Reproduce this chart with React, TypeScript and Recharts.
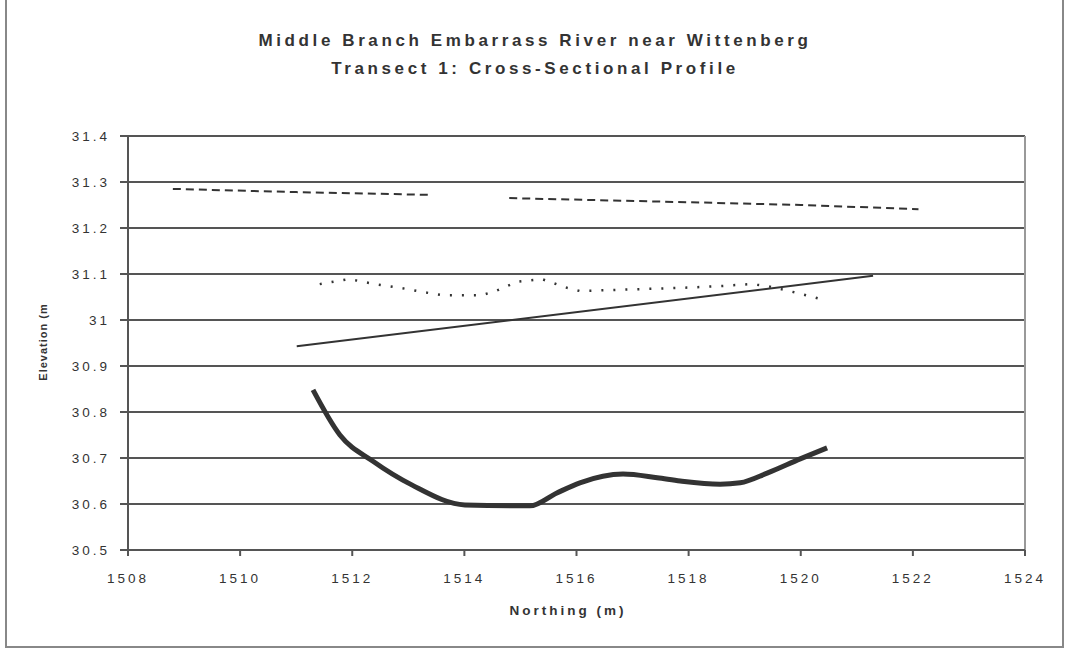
import {
  CartesianGrid,
  Line,
  LineChart,
  ReferenceLine,
  XAxis,
  YAxis,
} from "recharts";

// x = northing (m), y = elevation (m)
const waterSurface = [
  { x: 1508.8, y: 31.285 },
  { x: 1511.0, y: 31.278 },
  { x: 1513.4, y: 31.272 },
  { x: 1514.1, y: null },
  { x: 1514.8, y: 31.265 },
  { x: 1518.0, y: 31.256 },
  { x: 1520.0, y: 31.25 },
  { x: 1522.1, y: 31.241 },
];

const bankfull = [
  { x: 1511.42, y: 31.078 },
  { x: 1511.94, y: 31.089 },
  { x: 1512.41, y: 31.078 },
  { x: 1512.85, y: 31.07 },
  { x: 1513.35, y: 31.059 },
  { x: 1513.6, y: 31.054 },
  { x: 1514.31, y: 31.054 },
  { x: 1514.56, y: 31.063 },
  { x: 1514.94, y: 31.083 },
  { x: 1515.38, y: 31.089 },
  { x: 1515.83, y: 31.07 },
  { x: 1516.06, y: 31.063 },
  { x: 1517.9, y: 31.07 },
  { x: 1518.6, y: 31.074 },
  { x: 1519.1, y: 31.078 },
  { x: 1519.4, y: 31.074 },
  { x: 1519.93, y: 31.059 },
  { x: 1520.34, y: 31.046 },
];

const trendLine = [
  { x: 1511.01, y: 30.943 },
  { x: 1521.29, y: 31.096 },
];

const channelBed = [
  { x: 1511.3, y: 30.848 },
  { x: 1511.78, y: 30.75 },
  { x: 1512.37, y: 30.693 },
  { x: 1513.07, y: 30.641 },
  { x: 1514.01, y: 30.598 },
  { x: 1515.17, y: 30.596 },
  { x: 1515.65, y: 30.624 },
  { x: 1516.06, y: 30.646 },
  { x: 1516.83, y: 30.665 },
  { x: 1517.44, y: 30.657 },
  { x: 1517.85, y: 30.65 },
  { x: 1518.56, y: 30.643 },
  { x: 1518.92, y: 30.646 },
  { x: 1519.4, y: 30.667 },
  { x: 1519.99, y: 30.698 },
  { x: 1520.47, y: 30.722 },
];

const xTicks = [1508, 1510, 1512, 1514, 1516, 1518, 1520, 1522, 1524];
const yTicks = [30.5, 30.6, 30.7, 30.8, 30.9, 31, 31.1, 31.2, 31.3, 31.4];

const FONT = '"Liberation Sans", Arial, sans-serif';
const INK = "#333";
const tickStyle = { fill: INK, fontSize: 13.5, fontFamily: FONT, letterSpacing: 3 };

export default function App() {
  return (
    <div
      style={{
        position: "absolute",
        left: 0,
        top: 0,
        width: 1068,
        height: 649,
        background: "#fff",
        fontFamily: FONT,
      }}
    >
      <div
        style={{
          position: "absolute",
          left: 5,
          top: -2,
          width: 1055,
          height: 646,
          border: "2px solid #888",
        }}
      />
      <div
        style={{
          position: "absolute",
          left: 0,
          top: 27,
          width: 1070,
          textAlign: "center",
          color: INK,
          fontWeight: "bold",
          fontSize: 17,
          letterSpacing: 3.6,
          lineHeight: "28px",
        }}
      >
        <div>Middle Branch Embarrass River near Wittenberg</div>
        <div>Transect 1: Cross-Sectional Profile</div>
      </div>
      <div
        style={{
          position: "absolute",
          left: 43,
          top: 342,
          transform: "translate(-50%, -50%) rotate(-90deg)",
          whiteSpace: "nowrap",
          color: INK,
          fontWeight: "bold",
          fontSize: 11,
          letterSpacing: 1,
        }}
      >
        Elevation (m
      </div>
      <div
        style={{
          position: "absolute",
          left: 0,
          top: 603,
          width: 1136,
          textAlign: "center",
          color: INK,
          fontWeight: "bold",
          fontSize: 13.5,
          letterSpacing: 3,
        }}
      >
        Northing (m)
      </div>
      <LineChart
        width={1068}
        height={649}
        margin={{ top: 136, right: 43, bottom: 0, left: 50 }}
        style={{ position: "absolute", left: 0, top: 0 }}
      >
        <CartesianGrid vertical={false} stroke="#555" strokeWidth={2} />
        <XAxis
          type="number"
          dataKey="x"
          domain={[1508, 1524]}
          ticks={xTicks}
          tickSize={6}
          tickMargin={17}
          axisLine={{ stroke: "#555", strokeWidth: 2 }}
          tickLine={{ stroke: "#555", strokeWidth: 2 }}
          tick={tickStyle}
          allowDataOverflow
          height={99}
        />
        <YAxis
          type="number"
          dataKey="y"
          domain={[30.5, 31.4]}
          ticks={yTicks}
          width={78}
          tickSize={8}
          tickMargin={10}
          axisLine={{ stroke: "#555", strokeWidth: 2 }}
          tickLine={{ stroke: "#555", strokeWidth: 2 }}
          tick={tickStyle}
          tickFormatter={(v: number) => String(Math.round(v * 10) / 10)}
          allowDataOverflow
        />
        <ReferenceLine x={1524} stroke="#999" strokeWidth={2} />
        <Line
          data={waterSurface}
          dataKey="y"
          type="linear"
          stroke={INK}
          strokeWidth={2}
          strokeDasharray="8 5"
          dot={false}
          isAnimationActive={false}
        />
        <Line
          data={bankfull}
          dataKey="y"
          type="linear"
          stroke={INK}
          strokeWidth={2.5}
          strokeDasharray="2 10"
          dot={false}
          isAnimationActive={false}
        />
        <Line
          data={trendLine}
          dataKey="y"
          type="linear"
          stroke={INK}
          strokeWidth={2}
          dot={false}
          isAnimationActive={false}
        />
        <Line
          data={channelBed}
          dataKey="y"
          type="monotone"
          stroke={INK}
          strokeWidth={5}
          dot={false}
          isAnimationActive={false}
        />
      </LineChart>
    </div>
  );
}
